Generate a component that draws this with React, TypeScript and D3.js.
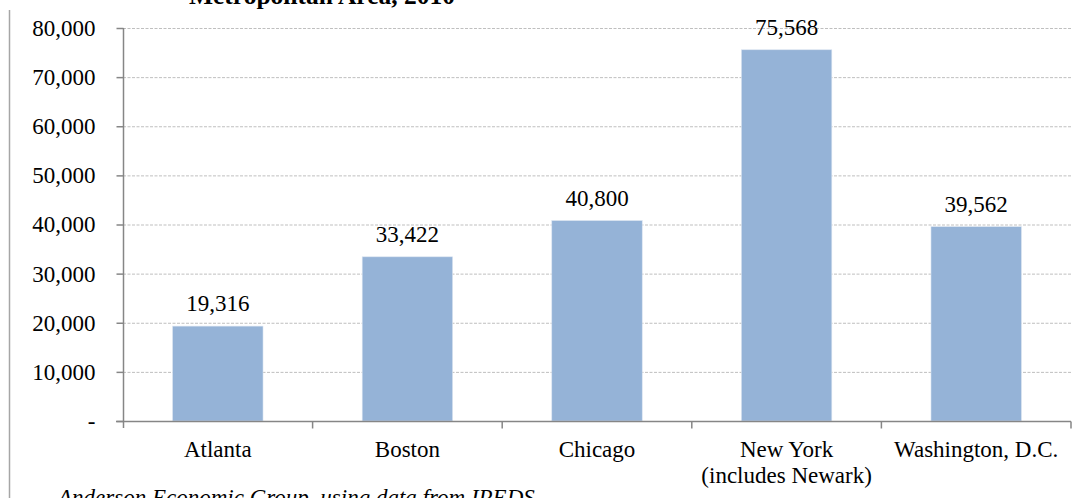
import React, { useEffect, useRef } from 'react';
import * as d3 from 'd3';

const categories = ['Atlanta', 'Boston', 'Chicago', 'New York\n(includes Newark)', 'Washington, D.C.'];
const values = [19316, 33422, 40800, 75568, 39562];
const yTicks = [0, 10000, 20000, 30000, 40000, 50000, 60000, 70000, 80000];

const W = 1087;
const H = 498;
const FONT = '"Liberation Serif", "Times New Roman", serif';
const FS = 23;

const App: React.FC = () => {
  const ref = useRef<SVGSVGElement | null>(null);

  useEffect(() => {
    const svg = d3.select(ref.current);
    svg.selectAll('*').remove();

    const margin = { top: 28, right: 16, bottom: 77, left: 123 };

    const x = d3
      .scaleBand()
      .domain(categories)
      .range([margin.left, W - margin.right])
      .padding(0);

    const y = d3
      .scaleLinear()
      .domain([0, 80000])
      .range([H - margin.bottom, margin.top]);

    const barW = x.bandwidth() * 0.477;

    // left frame line
    svg
      .append('line')
      .attr('x1', 9.5)
      .attr('x2', 9.5)
      .attr('y1', 10)
      .attr('y2', H)
      .attr('stroke', '#a6a6a6')
      .attr('stroke-width', 1.5);

    // title (clipped at the top, as in the source)
    svg
      .append('text')
      .attr('x', 322)
      .attr('y', 4)
      .attr('text-anchor', 'middle')
      .attr('font-family', FONT)
      .attr('font-weight', 'bold')
      .attr('font-size', 25.5)
      .text('Metropolitan Area, 2010');

    // gridlines
    svg
      .append('g')
      .selectAll('line')
      .data(yTicks.filter((d) => d > 0))
      .join('line')
      .attr('x1', margin.left)
      .attr('x2', W - margin.right)
      .attr('y1', (d) => y(d) + 0.5)
      .attr('y2', (d) => y(d) + 0.5)
      .attr('stroke', '#bfbfbf')
      .attr('stroke-dasharray', '3,1.5')
      .attr('stroke-width', 1);

    // bars
    svg
      .append('g')
      .selectAll('rect')
      .data(values)
      .join('rect')
      .attr('x', (_, i) => x(categories[i])! + (x.bandwidth() - barW) / 2)
      .attr('y', (d) => y(d))
      .attr('width', barW)
      .attr('height', (d) => y(0) - y(d))
      .attr('fill', '#95b3d7')
      .attr('stroke', '#dbe5f1')
      .attr('stroke-width', 0.6);

    // value labels
    svg
      .append('g')
      .selectAll('text')
      .data(values)
      .join('text')
      .attr('x', (_, i) => x(categories[i])! + x.bandwidth() / 2)
      .attr('y', (d) => y(d) - 15)
      .attr('text-anchor', 'middle')
      .attr('font-family', FONT)
      .attr('font-size', FS)
      .attr('fill', '#000')
      .text((d) => d3.format(',')(d));

    // y axis
    const yAxis = svg
      .append('g')
      .attr('transform', `translate(${margin.left + 0.5},0)`)
      .call(
        d3
          .axisLeft(y)
          .tickValues(yTicks)
          .tickSize(7)
          .tickPadding(21)
          .tickFormat((d) => (+d === 0 ? '-' : d3.format(',')(+d)))
      );
    yAxis
      .select('.domain')
      .attr('stroke', '#868686')
      .attr('stroke-width', 1.5)
      .attr('d', `M0,${y(80000)}V${y(0) + 7}`);
    yAxis.selectAll('.tick line').attr('stroke', '#868686').attr('stroke-width', 1.5);
    yAxis
      .selectAll('.tick text')
      .attr('font-family', FONT)
      .attr('font-size', FS)
      .attr('fill', '#000');

    // x axis
    const base = y(0) + 0.5;
    const xg = svg.append('g');
    xg.append('line')
      .attr('x1', margin.left - 7)
      .attr('x2', W - margin.right)
      .attr('y1', base)
      .attr('y2', base)
      .attr('stroke', '#868686')
      .attr('stroke-width', 1.5);
    const boundaries = categories
      .map((c) => x(c)!)
      .concat([x(categories[categories.length - 1])! + x.bandwidth()]);
    xg.selectAll('line.tk')
      .data(boundaries.slice(1))
      .join('line')
      .attr('class', 'tk')
      .attr('x1', (d) => d)
      .attr('x2', (d) => d)
      .attr('y1', base)
      .attr('y2', base + 7)
      .attr('stroke', '#868686')
      .attr('stroke-width', 1.5);

    const labels = xg
      .selectAll('text.cat')
      .data(categories)
      .join('text')
      .attr('class', 'cat')
      .attr('x', (d) => x(d)! + x.bandwidth() / 2)
      .attr('y', base + 35)
      .attr('text-anchor', 'middle')
      .attr('font-family', FONT)
      .attr('font-size', FS)
      .attr('fill', '#000');
    labels
      .selectAll('tspan')
      .data((d) => d.split('\n'))
      .join('tspan')
      .attr('x', function () {
        return (this.parentNode as SVGTextElement).getAttribute('x');
      })
      .attr('dy', (_, i) => (i === 0 ? 0 : 26))
      .text((d) => d);

    // source note (clipped at bottom, as in the source)
    svg
      .append('text')
      .attr('x', 58)
      .attr('y', 505)
      .attr('font-family', FONT)
      .attr('font-style', 'italic')
      .attr('font-size', FS)
      .text('Anderson Economic Group, using data from IPEDS');
  }, []);

  return (
    <svg
      ref={ref}
      width={W}
      height={H}
      style={{ position: 'absolute', left: 0, top: 0, background: '#fff' }}
    />
  );
};

export default App;
